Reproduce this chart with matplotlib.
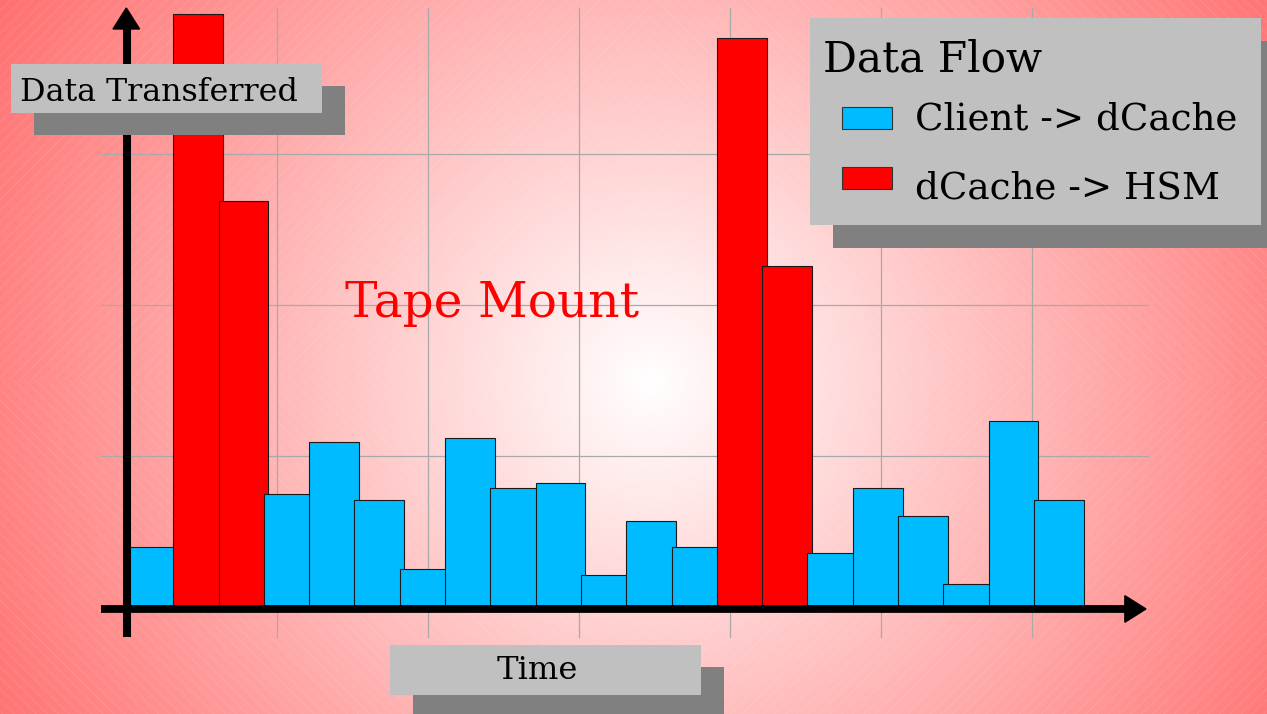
import numpy as np
import matplotlib
matplotlib.use("Agg")
import matplotlib.pyplot as plt
from matplotlib.patches import Rectangle, Polygon

# ---- data ---------------------------------------------------------------
time_slots = list(range(1, 22))
flow = ["client", "hsm", "hsm", "client", "client", "client", "client",
        "client", "client", "client", "client", "client", "client",
        "hsm", "hsm", "client", "client", "client", "client", "client",
        "client"]
transferred = [0.40, 3.93, 2.69, 0.75, 1.09, 0.71, 0.25, 1.12, 0.79, 0.82,
               0.21, 0.57, 0.40, 3.77, 2.26, 0.36, 0.79, 0.60, 0.15, 1.23,
               0.71]
flow_labels = {"client": "Client -> dCache", "hsm": "dCache -> HSM"}
flow_colors = {"client": "#00bbff", "hsm": "#ff0000"}
grid_y = [1, 2, 3]
grid_x = [1, 2, 3, 4, 5, 6]

W, H = 1267, 714
SERIF = "DejaVu Serif"
plt.rcParams["hatch.linewidth"] = 0.5

fig = plt.figure(figsize=(W / 100, H / 100), dpi=100)

# ---- radial pink background with a faint diagonal texture ---------------
bg = fig.add_axes([0, 0, 1, 1])
bg.set_axis_off()
yy, xx = np.mgrid[0:H, 0:W]
rad = np.hypot(xx - 650, yy - 380)
gb = np.clip(255 - 0.19 * rad, 0, 255) / 255
bg.imshow(np.dstack([np.ones_like(gb), gb, gb]), extent=(0, W, H, 0),
          aspect="auto", interpolation="bilinear")
for x0, y0, w, h, hat in [(0, 0, 650, 380, "///"),
                          (650, 0, W - 650, 380, "\\\\\\"),
                          (0, 380, 650, H - 380, "\\\\\\"),
                          (650, 380, W - 650, H - 380, "///")]:
    bg.add_patch(Rectangle((x0, y0), w, h, facecolor="none",
                           edgecolor=(1, 1, 1, 0.14), lw=0, hatch=hat))
bg.set_xlim(0, W)
bg.set_ylim(H, 0)

# ---- chart area ---------------------------------------------------------
ax = fig.add_axes([0, 0, 1, 1])
ax.patch.set_alpha(0)
ax.set_axis_off()
ax.set_xlim(-126 / 151, (W - 126) / 151)
ax.set_ylim((607 - H) / 151, 607 / 151)

grid_c = "#a9a9a9"
for v in grid_y:
    ax.plot([-0.166, 6.77], [v, v], color=grid_c, lw=0.9, zorder=1)
for u in grid_x:
    ax.plot([u, u], [-0.199, 3.967], color=grid_c, lw=0.9, zorder=1)

step, width = 0.3, 0.33
lefts = [0.013 + step * i for i in range(len(time_slots))]
ax.bar(lefts, transferred, width=width, align="edge",
       color=[flow_colors[f] for f in flow], edgecolor="#1a1a1a",
       linewidth=0.8, zorder=2)

# axes with arrow heads
ax.plot([0.007, 0.007], [-0.199, 3.83], color="black", lw=5.8,
        solid_capstyle="butt", zorder=4)
ax.plot([-0.166, 6.62], [-0.013, -0.013], color="black", lw=5.6,
        solid_capstyle="butt", zorder=4)
ax.add_patch(Polygon([(6.755, -0.013), (6.615, 0.075), (6.615, -0.101)],
                     closed=True, color="black", zorder=4))
ax.add_patch(Polygon([(0.002, 3.967), (-0.086, 3.828), (0.090, 3.828)],
                     closed=True, color="black", zorder=4))

# ---- labels, boxes and legend --------------------------------------------
ov = fig.add_axes([0, 0, 1, 1])
ov.patch.set_alpha(0)
ov.set_axis_off()
ov.set_xlim(0, W)
ov.set_ylim(H, 0)


def shadow_box(x0, y0, x1, y1, dx, dy):
    ov.add_patch(Rectangle((x0 + dx, y0 + dy), x1 - x0, y1 - y0,
                           facecolor="#808080", edgecolor="none"))
    ov.add_patch(Rectangle((x0, y0), x1 - x0, y1 - y0,
                           facecolor="#c0c0c0", edgecolor="none"))


shadow_box(11, 64, 322, 113, 23, 22)
ov.text(20, 101, "Data Transferred", family=SERIF, fontsize=22.9,
        ha="left", va="baseline", color="black")

shadow_box(390, 645, 701, 695, 23, 22)
ov.text(497, 679, "Time", family=SERIF, fontsize=23.2,
        ha="left", va="baseline", color="black")

ov.text(345, 317, "Tape Mount", family=SERIF, fontsize=35,
        ha="left", va="baseline", color="#ff0000")

shadow_box(810, 18, 1261, 225, 23, 23)
ov.text(823, 71, "Data Flow", family=SERIF, fontsize=30.4,
        ha="left", va="baseline", color="black")
for key, (sy0, sy1, base) in zip(["client", "hsm"],
                                 [(106.5, 128.5, 130), (167, 189, 198.5)]):
    ov.add_patch(Rectangle((842, sy0), 50, sy1 - sy0,
                           facecolor=flow_colors[key], edgecolor="#333333",
                           lw=0.8))
    ov.text(915, base, flow_labels[key], family=SERIF, fontsize=26.8,
            ha="left", va="baseline", color="black")

fig.savefig("out.png", dpi=100)
